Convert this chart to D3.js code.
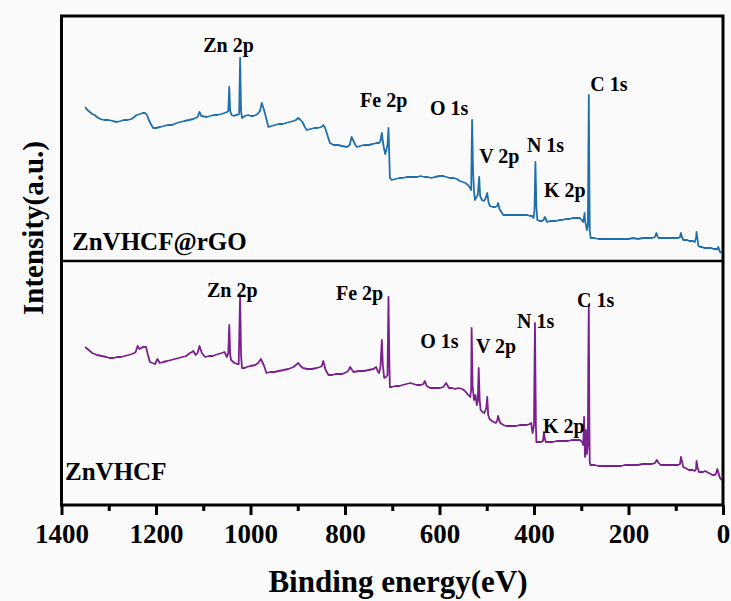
<!DOCTYPE html>
<html>
<head>
<meta charset="utf-8">
<script src="https://cdn.jsdelivr.net/npm/d3@7"></script>
<style>
  html, body { margin: 0; padding: 0; background: #fafafa; }
  svg { display: block; }
  text { font-family: "Liberation Serif", "Times New Roman", Times, serif; font-weight: bold; fill: #000; }
</style>
</head>
<body>
<svg id="chart" width="731" height="601"></svg>
<script>
// ---------- data ----------
const xTicks = [1400, 1200, 1000, 800, 600, 400, 200, 0];
const xMinorTicks = [1300, 1100, 900, 700, 500, 300, 100];

const seriesNames = ["ZnVHCF@rGO", "ZnVHCF"];
const seriesColors = ["#1f6fad", "#7a1f8e"];

// ZnVHCF@rGO survey spectrum: [binding energy (eV), intensity (a.u.)]
const spectrumTop = [
[1350,154],[1345,151],[1340,149],[1335,147],[1330,146],[1325,144],[1318,142],[1310,141],[1300,141],[1292,140],
[1283,139],[1275,140],[1268,141],[1260,141],[1252,142],[1246,144],[1241,146],[1234,147],[1228,148],[1223,148],
[1219,146],[1216,142],[1211,137],[1206,133],[1200,133],[1191,134],[1183,135],[1175,136],[1166,136],[1156,138],
[1148,139],[1140,140],[1130,141],[1121,142],[1112,144],[1108,149],[1104,145],[1093,144],[1085,145],[1078,146],
[1070,146],[1062,147],[1055,148],[1050,149],[1047,150],[1045,174],[1043,150],[1040,146],[1035,145],[1031,146],
[1028,146],[1024,147],[1022,203],[1020,150],[1018,143],[1012,145],[1005,146],[999,145],[994,145],[989,146],
[985,147],[980,150],[976,158],[972,152],[968,145],[962,134],[955,135],[948,136],[940,137],[932,137],
[925,138],[917,139],[909,140],[904,141],[899,143],[894,141],[890,139],[885,134],[881,131],[873,132],
[865,133],[858,133],[850,134],[846,136],[842,133],[836,124],[832,118],[824,116],[815,116],[806,115],
[796,114],[790,116],[786,124],[782,120],[778,116],[775,114],[768,115],[760,116],[750,116],[741,117],
[733,118],[728,118],[725,120],[722,128],[720,120],[718,114],[715,107],[712,112],[710,116],[708,133],
[706,100],[705,83],[701,81],[693,82],[685,83],[678,83],[670,84],[662,84],[655,84],[647,84],
[640,85],[632,84],[625,84],[617,83],[610,84],[600,85],[592,85],[585,84],[578,83],[570,83],
[563,82],[557,80],[551,79],[545,78],[540,76],[535,73],[533,71],[531,141],[529,90],[527,70],
[525,61],[522,64],[519,66],[516,84],[514,65],[512,63],[510,61],[506,60],[503,62],[499,68],
[496,58],[493,55],[487,54],[482,54],[478,55],[476,58],[473,52],[469,49],[465,46],[458,46],
[450,46],[443,46],[436,46],[428,46],[420,46],[414,46],[408,45],[404,45],[401,43],[399,50],
[397,99],[395,55],[393,41],[388,40],[383,40],[380,41],[377,44],[374,41],[372,39],[366,40],
[360,40],[353,40],[347,41],[340,41],[333,42],[325,42],[318,43],[310,43],[303,43],[299,41],
[296,39],[294,44],[293,48],[292,40],[290,36],[288,31],[286,35],[285,100],[284,166],[283,90],
[282,30],[280,23],[272,23],[264,22],[256,22],[248,22],[240,22],[232,22],[224,22],[216,22],
[208,22],[200,22],[190,23],[180,22],[170,23],[160,23],[150,23],[144,24],[141,28],[138,24],
[136,23],[128,23],[120,23],[112,23],[105,23],[100,23],[95,23],[91,24],[89,28],[87,24],
[84,21],[80,21],[76,21],[72,20],[68,20],[64,20],[60,19],[57,23],[56,29],[54,22],
[52,15],[48,14],[44,14],[40,13],[36,13],[32,13],[28,13],[25,13],[20,12],[16,12],
[12,12],[10,14],[8,11],[6,9],[3,8]
];

// ZnVHCF survey spectrum: [binding energy (eV), intensity (a.u.)]
const spectrumBottom = [
[1350,158],[1345,156],[1340,154],[1335,152],[1330,151],[1325,150],[1315,149],[1305,148],[1298,147],[1290,147],
[1282,148],[1274,148],[1266,149],[1258,150],[1251,151],[1246,152],[1243,153],[1239,159],[1235,156],[1231,157],
[1228,158],[1224,158],[1221,158],[1217,150],[1213,143],[1208,142],[1202,141],[1197,146],[1192,142],[1185,143],
[1176,144],[1168,145],[1160,146],[1152,147],[1144,148],[1136,149],[1128,152],[1124,153],[1121,154],[1116,150],
[1112,152],[1108,159],[1103,152],[1096,148],[1088,149],[1080,149],[1075,150],[1068,151],[1061,152],[1055,153],
[1050,148],[1047,152],[1045,180],[1043,150],[1041,145],[1034,142],[1028,141],[1025,141],[1022,210],[1020,150],
[1018,137],[1012,137],[1008,138],[1000,139],[990,140],[984,142],[978,146],[972,140],[966,132],[958,133],
[950,133],[940,134],[930,135],[920,136],[909,138],[904,140],[899,142],[894,139],[889,137],[880,136],
[870,136],[860,137],[853,138],[849,139],[846,144],[841,135],[835,130],[827,130],[820,131],[815,131],
[806,131],[796,133],[792,135],[789,138],[785,135],[782,133],[770,134],[760,134],[750,135],[740,136],
[734,138],[731,134],[728,132],[725,138],[722,165],[720,140],[717,127],[713,128],[710,130],[708,208],
[706,140],[705,118],[701,118],[693,119],[685,119],[678,120],[670,121],[662,122],[655,121],[648,120],
[640,120],[634,121],[631,124],[627,119],[620,117],[613,117],[606,117],[599,117],[592,118],[586,122],
[580,117],[573,117],[567,116],[560,117],[552,116],[546,114],[539,110],[535,108],[533,115],[532,177],
[530,120],[527,105],[524,110],[521,100],[519,104],[517,137],[515,105],[513,95],[509,93],[505,92],
[501,97],[499,108],[497,90],[494,86],[489,84],[485,83],[481,82],[478,84],[476,89],[473,84],
[471,82],[465,80],[459,79],[452,79],[445,79],[438,79],[430,80],[422,80],[415,80],[409,81],
[406,82],[403,72],[400,80],[398,182],[396,80],[395,63],[390,63],[385,63],[381,64],[379,73],
[377,66],[375,63],[368,63],[360,63],[352,64],[344,64],[336,64],[328,64],[320,65],[311,65],
[303,65],[298,63],[296,60],[295,70],[294,88],[293,65],[292,48],[291,58],[290,75],[289,58],
[288,51],[286,60],[285,150],[284,200],[283,95],[282,42],[280,40],[272,40],[264,39],[256,39],
[248,39],[240,39],[232,39],[224,39],[216,39],[208,40],[200,40],[190,40],[180,40],[170,41],
[160,41],[150,41],[144,42],[140,45],[136,42],[132,40],[124,40],[116,40],[108,40],[100,40],
[95,40],[91,41],[89,48],[87,44],[84,38],[80,37],[76,36],[72,35],[68,35],[64,35],
[60,34],[57,36],[56,44],[54,38],[51,33],[46,33],[42,33],[38,34],[34,33],[30,32],
[26,31],[22,30],[18,30],[15,31],[12,36],[10,33],[8,29],[5,26],[3,25]
];

const peakLabels = ["Zn 2p", "Fe 2p", "O 1s", "V 2p", "N 1s", "K 2p", "C 1s"];
// label anchor points (energy at text start, intensity at baseline) for each panel
const labelEnergyTop = [1100, 768, 620, 516, 415, 379, 281];
const labelIntensityTop = [209, 154, 146, 98, 109, 64, 170];
const labelEnergyBottom = [1092, 819, 641, 523, 436, 381, 309];
const labelIntensityBottom = [208, 205, 157, 152, 177, 72, 198];

// ---------- layout ----------
const svg = d3.select("#chart");
const padL = 61.5, padR = 723, padT = 16, padMid = 261, padB = 505;

const x = d3.scaleLinear().domain([1400, 0]).range([padL, padR]);
const yTop = d3.scaleLinear().domain([0, 245]).range([padMid, padT]);
const yBottom = d3.scaleLinear().domain([0, 244]).range([padB, padMid]);

const panels = [
  { data: spectrumTop, y: yTop, le: labelEnergyTop, li: labelIntensityTop },
  { data: spectrumBottom, y: yBottom, le: labelEnergyBottom, li: labelIntensityBottom }
];

svg.append("defs").append("clipPath").attr("id", "plotclip")
  .append("rect").attr("x", padL).attr("y", padT).attr("width", padR - padL).attr("height", padB - padT);

panels.forEach((p, k) => {
  const line = d3.line().x(d => x(d[0])).y(d => p.y(d[1]));
  svg.append("path")
    .datum(p.data)
    .attr("d", line)
    .attr("fill", "none")
    .attr("stroke", seriesColors[k])
    .attr("stroke-width", 1.8)
    .attr("stroke-linejoin", "round")
    .attr("clip-path", "url(#plotclip)");

  peakLabels.forEach((t, j) => {
    svg.append("text")
      .attr("x", x(p.le[j]))
      .attr("y", p.y(p.li[j]))
      .attr("font-size", 20)
      .text(t);
  });
});

// sample names
svg.append("text").attr("x", 72).attr("y", 250).attr("font-size", 25).text(seriesNames[0]);
svg.append("text").attr("x", 65).attr("y", 480).attr("font-size", 25).text(seriesNames[1]);

// frame and divider
svg.append("rect")
  .attr("x", padL).attr("y", padT).attr("width", padR - padL).attr("height", padB - padT)
  .attr("fill", "none").attr("stroke", "#000").attr("stroke-width", 3);
svg.append("line")
  .attr("x1", padL).attr("x2", padR).attr("y1", padMid).attr("y2", padMid)
  .attr("stroke", "#000").attr("stroke-width", 2.5);

// x axis
const axis = d3.axisBottom(x).tickValues(xTicks).tickSize(10).tickFormat(d3.format("d"));
const gAxis = svg.append("g").attr("transform", `translate(0,${padB})`).call(axis);
gAxis.select(".domain").remove();
gAxis.selectAll(".tick line").attr("stroke", "#000").attr("stroke-width", 3);
gAxis.selectAll(".tick text")
  .attr("font-size", 27)
  .attr("font-family", '"Liberation Serif", "Times New Roman", Times, serif')
  .attr("font-weight", "bold")
  .attr("dy", null)
  .attr("y", 38)
  .style("fill", "#000");

const minor = d3.axisBottom(x).tickValues(xMinorTicks).tickSize(6).tickFormat("");
const gMinor = svg.append("g").attr("transform", `translate(0,${padB})`).call(minor);
gMinor.select(".domain").remove();
gMinor.selectAll(".tick line").attr("stroke", "#000").attr("stroke-width", 3);

// axis titles
svg.append("text")
  .attr("x", 398).attr("y", 592)
  .attr("text-anchor", "middle")
  .attr("font-size", 31)
  .text("Binding energy(eV)");

svg.append("text")
  .attr("transform", "translate(43,228) rotate(-90)")
  .attr("text-anchor", "middle")
  .attr("font-size", 29)
  .text("Intensity(a.u.)");
</script>
</body>
</html>
